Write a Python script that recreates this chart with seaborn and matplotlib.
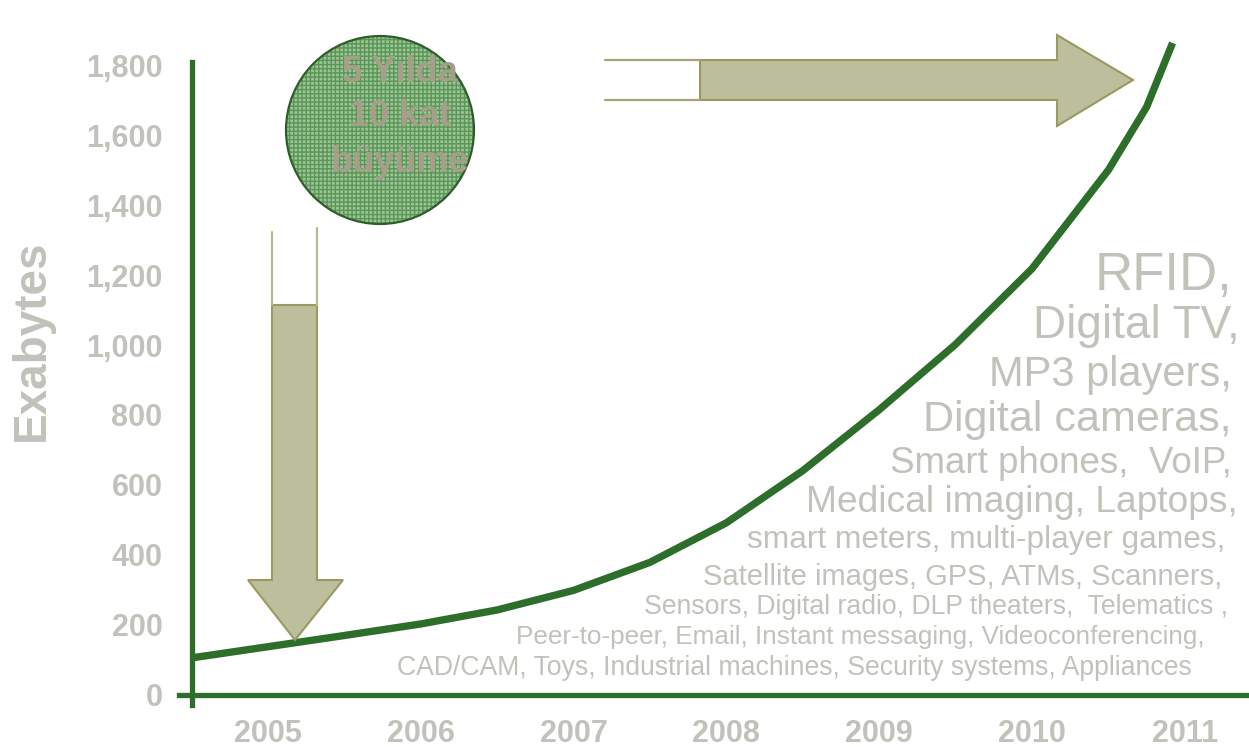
import matplotlib
matplotlib.use("Agg")
import matplotlib.pyplot as plt
import numpy as np
import pandas as pd
import seaborn as sns
from matplotlib.patches import Circle, Polygon
from matplotlib.lines import Line2D
from matplotlib import font_manager as fm

# ---------------- data ----------------
years = [2005, 2006, 2007, 2008, 2009, 2010, 2011]
year_labels = ["2005", "2006", "2007", "2008", "2009", "2010", "2011"]
curve_x = [2004.5, 2005.0, 2005.5, 2006.0, 2006.5, 2007.0, 2007.5, 2008.0,
           2008.5, 2009.0, 2009.5, 2010.0, 2010.5, 2010.75, 2010.92]
curve_y = [106, 138, 170, 203, 243, 299, 379, 492,
           641, 815, 1002, 1218, 1500, 1680, 1863]
y_ticks = [0, 200, 400, 600, 800, 1000, 1200, 1400, 1600, 1800]
y_tick_labels = ["0", "200", "400", "600", "800", "1,000", "1,200", "1,400", "1,600", "1,800"]
y_title = "Exabytes"
bubble_lines = ["5 Yılda", "10 kat", "büyüme"]
device_lines = [
    "RFID,",
    "Digital TV,",
    "MP3 players,",
    "Digital cameras,",
    "Smart phones,  VoIP,",
    "Medical imaging, Laptops,",
    "smart meters, multi-player games,",
    "Satellite images, GPS, ATMs, Scanners,",
    "Sensors, Digital radio, DLP theaters,  Telematics ,",
    "Peer-to-peer, Email, Instant messaging, Videoconferencing,",
    "CAD/CAM, Toys, Industrial machines, Security systems, Appliances",
]

# ---------------- style ----------------
sns.set_theme(style="white")
plt.rcParams["font.family"] = ["Liberation Sans", "DejaVu Sans"]

GREEN = "#2c6e2a"
GRAY = "#c2c1ba"
BUBBLE_TXT = "#a69e8b"
ARROW_FILL = "#bdbe9b"
ARROW_EDGE = "#9a9962"

W, H = 1249, 747
fig = plt.figure(figsize=(W / 100, H / 100), dpi=100)
ax = fig.add_axes([0, 0, 1, 1])
ax.set_facecolor("white")

PX_PER_YEAR = 152.8
X0_PX = 268.0
ZERO_PX = 695.0
PX_PER_UNIT = 0.35
ax.set_xlim(2005 - X0_PX / PX_PER_YEAR, 2005 + (W - X0_PX) / PX_PER_YEAR)
ax.set_ylim((ZERO_PX - H) / PX_PER_UNIT, ZERO_PX / PX_PER_UNIT)

df = pd.DataFrame({"year": curve_x, "exabytes": curve_y})
sns.lineplot(data=df, x="year", y="exabytes", ax=ax, color=GREEN, linewidth=5.3,
             sort=False, estimator=None, solid_capstyle="butt", solid_joinstyle="round",
             zorder=4)

# spines as axes
for s in ["top", "right"]:
    ax.spines[s].set_visible(False)
ax.spines["left"].set_position(("data", 2004.5))
ax.spines["left"].set_bounds(-29, 1810)
ax.spines["bottom"].set_position(("data", 0))
ax.spines["bottom"].set_bounds(2004.42, ax.get_xlim()[1])
for s in ["left", "bottom"]:
    ax.spines[s].set_color(GREEN)
    ax.spines[s].set_linewidth(3.8)
    ax.spines[s].set_zorder(5)

ax.set_yticks(y_ticks)
ax.set_yticklabels(y_tick_labels, fontsize=22, fontweight="bold", color=GRAY)
ax.tick_params(axis="y", length=0, pad=21)

narrow_ok = any(f.name == "Liberation Sans Narrow" for f in fm.fontManager.ttflist)
ax.set_xticks(years)
if narrow_ok:
    ax.set_xticklabels(year_labels, fontsize=26, fontweight="bold", color=GRAY,
                       family=["Liberation Sans Narrow", "DejaVu Sans"])
else:
    ax.set_xticklabels(year_labels, fontsize=22, fontweight="bold", color=GRAY)
ax.tick_params(axis="x", length=0, pad=17)
ax.set_xlabel("")
ax.set_ylabel("")
ax.grid(False)


def fx(px):
    return px / W


def fy(py):
    return 1 - py / H


fig.text(fx(32), fy(340), y_title, rotation=90, ha="center", va="center",
         fontsize=33, fontweight="bold", color=GRAY)

# ---------------- bubble ----------------
inch = fig.dpi_scale_trans
cx, cy, r = 380, 130, 94
c1 = Circle((cx / 100, (H - cy) / 100), r / 100, transform=inch, facecolor="#9cc497",
            edgecolor="#5a9656", hatch="++++", linewidth=0, zorder=6)
c2 = Circle((cx / 100, (H - cy) / 100), r / 100, transform=inch, facecolor="none",
            edgecolor="#2f5e2c", linewidth=1.6, zorder=7)
fig.add_artist(c1)
fig.add_artist(c2)
for line, py in zip(bubble_lines, [72, 117, 162]):
    fig.text(fx(400), fy(py), line, ha="center", va="center", fontsize=26,
             fontweight="bold", color=BUBBLE_TXT, zorder=8)

# ---------------- arrows ----------------
def poly(points, **kw):
    pts = [(x / 100, (H - y) / 100) for x, y in points]
    p = Polygon(pts, closed=True, transform=inch, **kw)
    fig.add_artist(p)


def pline(x0, y0, x1, y1, **kw):
    l = Line2D([x0 / 100, x1 / 100], [(H - y0) / 100, (H - y1) / 100], transform=inch, **kw)
    fig.add_artist(l)


# down arrow
poly([(272, 305), (317, 305), (317, 580), (343, 580), (295, 640), (248, 580), (272, 580)],
     facecolor=ARROW_FILL, edgecolor=ARROW_EDGE, linewidth=1.5, zorder=6)
pline(272, 232, 272, 305, color="#b9b88f", linewidth=1.6, zorder=6)
pline(317, 228, 317, 305, color="#b9b88f", linewidth=1.6, zorder=6)

# right arrow
poly([(700, 60), (1057, 60), (1057, 35), (1133, 80), (1057, 126), (1057, 100), (700, 100)],
     facecolor=ARROW_FILL, edgecolor=ARROW_EDGE, linewidth=1.5, zorder=6)
pline(605, 60, 700, 60, color="#a9a77a", linewidth=1.6, zorder=6)
pline(605, 100, 700, 100, color="#a9a77a", linewidth=1.6, zorder=6)

# ---------------- device text block ----------------
layout = [  # (font size pt, right edge px, center y px)
    (38, 1232, 276),
    (33, 1240, 326),
    (30, 1232, 375),
    (31, 1232, 420),
    (26.5, 1232, 463),
    (26.7, 1238, 503),
    (22.8, 1225, 540),
    (21, 1222, 577),
    (19.2, 1228, 607),
    (18.8, 1205, 637),
    (19.2, 1192, 668),
]
for text, (fs, rx, py) in zip(device_lines, layout):
    fig.text(fx(rx), fy(py), text, ha="right", va="center", fontsize=fs, color=GRAY, zorder=3)

fig.savefig("out.png", dpi=100, facecolor="white")
